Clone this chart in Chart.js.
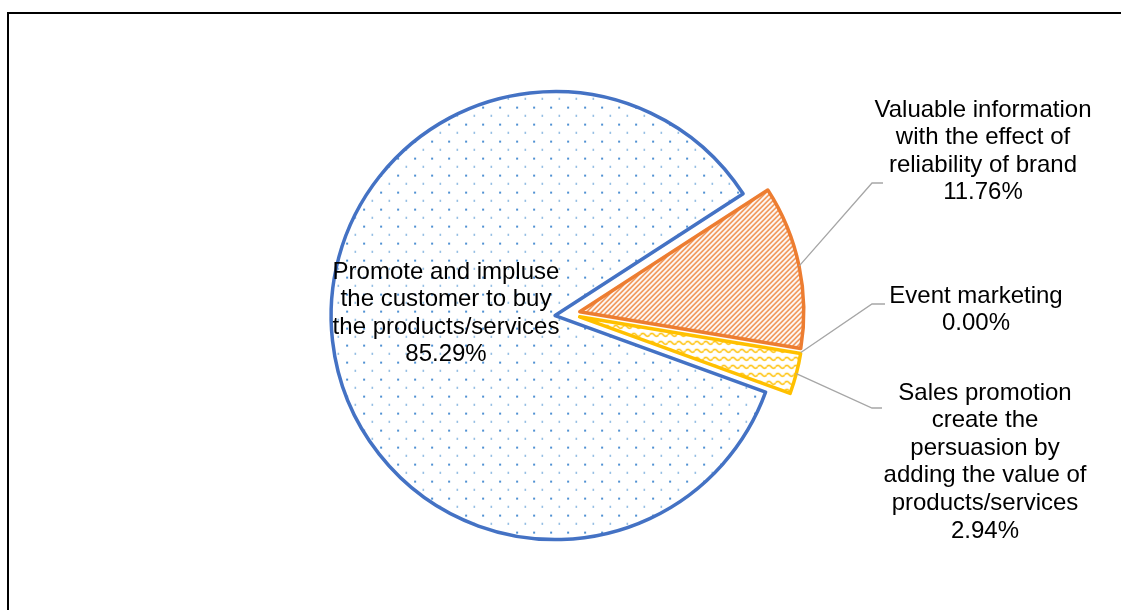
<!DOCTYPE html>
<html>
<head>
<meta charset="utf-8">
<script src="https://cdn.jsdelivr.net/npm/chart.js@4"></script>
<style>
  html, body { margin: 0; padding: 0; background: #fff; overflow: hidden; }
  #marco { position: absolute; left: 7px; top: 12px; width: 1300px; height: 800px; border: 2px solid #000; }
  #grafica { position: absolute; left: 0; top: 0; }
</style>
</head>
<body>
<div id="marco"></div>
<canvas id="grafica" width="1121" height="610"></canvas>
<script>
// Categorías (ya partidas en líneas) y porcentajes
const categorias = [
  ["Promote and impluse", "the customer to buy", "the products/services"],
  ["Valuable information", "with the effect of", "reliability of brand"],
  ["Event marketing"],
  ["Sales promotion", "create the", "persuasion by", "adding the value of", "products/services"],
];
const porcentajes = [85.29, 11.76, 0.0, 2.94];

const bordes = ["#4472C4", "#ED7D31", "#A5A5A5", "#FFC000"];
// Separación de cada porción respecto al centro
const explotar = [14, 11, 11, 11];
// Posición de las etiquetas y de sus líneas guía
const posEtiquetas = [
  { x: 446, y: 272 },
  { x: 983, y: 110, codo: [872, 183], fin: [883, 183] },
  { x: 976, y: 296, codo: [872, 304], fin: [885, 304] },
  { x: 985, y: 393, codo: [872, 408], fin: [882, 408] },
];

function patronPuntos() {
  const c = document.createElement("canvas");
  c.width = 17; c.height = 17;
  const g = c.getContext("2d");
  g.fillStyle = "#fff";
  g.fillRect(0, 0, 17, 17);
  g.fillStyle = "#4F91D3";
  g.fillRect(3, 3, 2, 2);
  g.fillStyle = "#5B9BD5";
  g.fillRect(11.5, 11.5, 1.5, 1.5);
  return g.createPattern(c, "repeat");
}

function patronDiagonal() {
  const c = document.createElement("canvas");
  c.width = 5; c.height = 5;
  const g = c.getContext("2d");
  g.fillStyle = "#fff";
  g.fillRect(0, 0, 5, 5);
  g.strokeStyle = "#ED7D31";
  g.lineWidth = 1.4;
  g.beginPath();
  g.moveTo(-1, 6); g.lineTo(6, -1);
  g.moveTo(-1, 1); g.lineTo(1, -1);
  g.moveTo(4, 6); g.lineTo(6, 4);
  g.stroke();
  return g.createPattern(c, "repeat");
}

function patronOndas() {
  const c = document.createElement("canvas");
  c.width = 9; c.height = 8;
  const g = c.getContext("2d");
  g.fillStyle = "#fff";
  g.fillRect(0, 0, 9, 8);
  g.strokeStyle = "#FFC000";
  g.lineWidth = 1.5;
  g.beginPath();
  g.moveTo(0, 4);
  g.quadraticCurveTo(2.25, 1, 4.5, 4);
  g.quadraticCurveTo(6.75, 7, 9, 4);
  g.stroke();
  return g.createPattern(c, "repeat");
}

const rellenos = [patronPuntos(), patronDiagonal(), "#fff", patronOndas()];

const pieExplota = {
  id: "pieExplota",
  beforeDatasetDraw(chart, args) {
    const ctx = chart.ctx;
    args.meta.data.forEach((arc, i) => {
      const mid = (arc.startAngle + arc.endAngle) / 2;
      ctx.save();
      ctx.translate(Math.cos(mid) * explotar[i], Math.sin(mid) * explotar[i]);
      arc.draw(ctx, chart.chartArea);
      ctx.restore();
    });
    return false;
  },
  afterDatasetsDraw(chart) {
    const ctx = chart.ctx;
    const arcs = chart.getDatasetMeta(0).data;
    ctx.save();
    // Líneas guía
    ctx.strokeStyle = "#A6A6A6";
    ctx.lineWidth = 1.3;
    arcs.forEach((arc, i) => {
      const p = posEtiquetas[i];
      if (!p.codo) return;
      const mid = (arc.startAngle + arc.endAngle) / 2;
      const r = arc.outerRadius + explotar[i];
      ctx.beginPath();
      ctx.moveTo(arc.x + Math.cos(mid) * r, arc.y + Math.sin(mid) * r);
      ctx.lineTo(p.codo[0], p.codo[1]);
      ctx.lineTo(p.fin[0], p.fin[1]);
      ctx.stroke();
    });
    // Textos
    ctx.font = "24px 'Liberation Sans', Arial, sans-serif";
    ctx.fillStyle = "#000";
    ctx.textAlign = "center";
    ctx.textBaseline = "middle";
    categorias.forEach((lineas, i) => {
      const p = posEtiquetas[i];
      const todas = lineas.concat([porcentajes[i].toFixed(2) + "%"]);
      todas.forEach((t, k) => ctx.fillText(t, p.x, p.y + k * 27.6));
    });
    ctx.restore();
  },
};

const ctx = document.getElementById("grafica").getContext("2d");
new Chart(ctx, {
  type: "pie",
  data: {
    labels: categorias,
    datasets: [
      {
        data: porcentajes,
        backgroundColor: rellenos,
        borderColor: bordes,
        borderWidth: 3.5,
        borderJoinStyle: "round",
      },
    ],
  },
  options: {
    responsive: false,
    animation: false,
    events: [],
    rotation: 110,
    radius: 224,
    layout: { padding: { left: 118, right: 101, top: 38, bottom: 20 } },
    plugins: {
      legend: { display: false },
      tooltip: { enabled: false },
    },
  },
  plugins: [pieExplota],
});
</script>
</body>
</html>
